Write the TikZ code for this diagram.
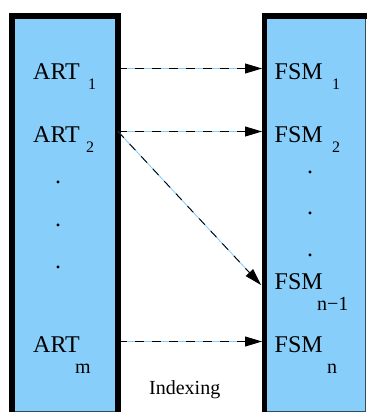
\documentclass[tikz,border=0pt]{standalone}
\usepackage{fontspec}
\setmainfont{Liberation Serif}
\usetikzlibrary{arrows.meta}
\definecolor{boxblue}{RGB}{135,206,250}
\definecolor{edgegray}{RGB}{55,75,95}
\begin{document}
\begin{tikzpicture}[x=1pt,y=-1pt,
  big/.style={font=\fontsize{24}{28}\selectfont, inner sep=0pt, anchor=base west},
  sub/.style={font=\fontsize{16}{19}\selectfont, inner sep=0pt, anchor=base west},
  subl/.style={font=\fontsize{20}{24}\selectfont, inner sep=0pt, anchor=base west},
  dotmark/.style={font=\fontsize{24}{28}\selectfont, inner sep=0pt, anchor=base},
  idxarrow/.style={draw=boxblue, line width=0.9pt,
    postaction={draw=black, line width=0.9pt, dash pattern=on 8.5pt off 8.5pt,
      -{Triangle[length=17pt,width=10pt]}}}]
\useasboundingbox (0,0) rectangle (368,412);
% left box
\fill[black] (9,13) rectangle (120.5,412);
\fill[boxblue] (15,19) rectangle (114.5,411);
\draw[edgegray, line width=0.8pt] (15,411.4) -- (114.5,411.4);
% right box
\fill[black] (261.5,13) rectangle (366.5,19);
\fill[black] (261.5,13) rectangle (267,412);
\fill[boxblue] (267,19) rectangle (365.5,411);
\draw[edgegray, line width=0.8pt] (267,411.4) -- (365.8,411.4) -- (365.8,19);
% left labels
\node[big] (art1) at (33,79) {ART};
\node[sub] (art1s) at (88,89) {1};
\node[big] (art2) at (33,142) {ART};
\node[sub] (art2s) at (86,152) {2};
\node[dotmark] (ld1) at (58,183.5) {.};
\node[dotmark] (ld2) at (58,226.5) {.};
\node[dotmark] (ld3) at (58,268.5) {.};
\node[big] (artm) at (33,352) {ART};
\node[subl] (artms) at (75,373) {m};
% right labels
\node[big] (fsm1) at (274.5,79) {FSM};
\node[sub] (fsm1s) at (332,89) {1};
\node[big] (fsm2) at (274.5,142) {FSM};
\node[sub] (fsm2s) at (332,152) {2};
\node[dotmark] (rd1) at (310,173.5) {.};
\node[dotmark] (rd2) at (310,214.5) {.};
\node[dotmark] (rd3) at (310,256.5) {.};
\node[big] (fsmn1) at (274.5,289) {FSM};
\node[subl] (fsmn1s) at (317,310) {n\textminus1};
\node[big] (fsmn) at (274.5,352) {FSM};
\node[subl] (fsmns) at (327,373) {n};
\node[font=\fontsize{20}{24}\selectfont, inner sep=0pt, anchor=base west] (idx) at (149,394) {Indexing};
% connector end points
\coordinate (a1) at (118,68.5);
\coordinate (a2) at (118,131.5);
\coordinate (am) at (118,341.5);
\coordinate (f1) at (262,68.5);
\coordinate (f2) at (262,131.5);
\coordinate (fn1) at (261,285);
\coordinate (fn) at (262,341.5);
\draw[idxarrow] (a1) -- (f1);
\draw[idxarrow] (a2) -- (f2);
\draw[idxarrow] (a2) -- (fn1);
\draw[idxarrow] (am) -- (fn);
\end{tikzpicture}
\end{document}
